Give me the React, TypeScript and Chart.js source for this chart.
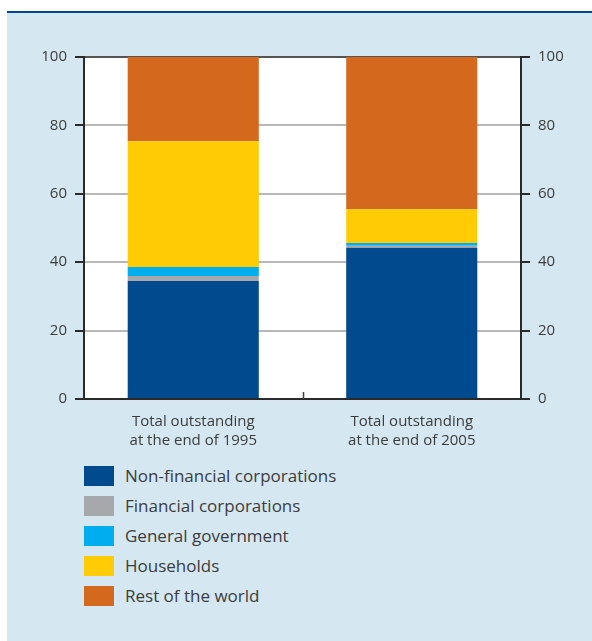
import React, { useEffect, useRef } from "react";
import { Chart, registerables } from "chart.js";

Chart.register(...registerables);

const categories = [
  ["Total outstanding", "at the end of 1995"],
  ["Total outstanding", "at the end of 2005"],
];
const seriesNames = [
  "Non-financial corporations",
  "Financial corporations",
  "General government",
  "Households",
  "Rest of the world",
];
const nonFinancial = [34.5, 44.2];
const financial = [1.5, 0.6];
const government = [2.6, 0.8];
const households = [36.8, 9.9];
const restOfWorld = [24.6, 44.5];
const seriesColors = ["#004a8d", "#a6a8ab", "#00aeef", "#ffcb05", "#d4691e"];
const yMin = 0;
const yMax = 100;
const yStep = 20;

const FONT = "'Open Sans', 'Noto Sans', sans-serif";
const TEXT = "#3c3c3c";

const decorPlugin = {
  id: "decor",
  beforeDraw(chart: any) {
    const { ctx, chartArea: a } = chart;
    ctx.save();
    ctx.fillStyle = "#ffffff";
    ctx.fillRect(a.left, a.top, a.right - a.left, a.bottom - a.top);
    ctx.restore();
  },
  afterDraw(chart: any) {
    const { ctx, chartArea: a } = chart;
    const xs = chart.scales.x;
    ctx.save();
    ctx.strokeStyle = "#444";
    ctx.lineWidth = 1.5;
    for (let i = 0; i < xs.ticks.length - 1; i++) {
      const px = Math.round((xs.getPixelForTick(i) + xs.getPixelForTick(i + 1)) / 2) + 0.5;
      ctx.beginPath();
      ctx.moveTo(px, a.bottom);
      ctx.lineTo(px, a.bottom - 7);
      ctx.stroke();
    }
    ctx.restore();
  },
};

export default function App() {
  const ref = useRef<HTMLCanvasElement | null>(null);

  useEffect(() => {
    if (!ref.current) return;
    const values = [nonFinancial, financial, government, households, restOfWorld];
    const tickFont = { family: FONT, size: 15 };
    const chart = new Chart(ref.current, {
      type: "bar",
      data: {
        labels: categories,
        datasets: values.map((v, i) => ({
          label: seriesNames[i],
          data: v,
          backgroundColor: seriesColors[i],
          borderWidth: 0,
          barPercentage: 0.6,
          categoryPercentage: 1,
        })),
      },
      options: {
        animation: false,
        responsive: false,
        devicePixelRatio: 1,
        layout: { padding: { top: 57, left: 0, right: 0, bottom: 0 } },
        plugins: { legend: { display: false }, tooltip: { enabled: false } },
        scales: {
          x: {
            stacked: true,
            grid: { display: false, drawTicks: false },
            border: { display: true, color: "#2a2a2a", width: 2 },
            ticks: { color: TEXT, font: { ...tickFont, lineHeight: 1.27 }, padding: 13, maxRotation: 0 },
            afterFit: (s: any) => {
              s.height = 61;
            },
          },
          y: {
            stacked: true,
            position: "left",
            min: yMin,
            max: yMax,
            ticks: { stepSize: yStep, color: TEXT, font: tickFont, padding: 8 },
            grid: {
              color: (c: any) => (c.tick && c.tick.value === yMax ? "#555" : "#b8b8b8"),
              lineWidth: 2,
              tickColor: "#2a2a2a",
              tickLength: 9,
            },
            border: { display: true, color: "#2a2a2a", width: 2 },
            afterFit: (s: any) => {
              s.width = 84;
            },
          },
          y2: {
            position: "right",
            min: yMin,
            max: yMax,
            ticks: { stepSize: yStep, color: TEXT, font: tickFont, padding: 8 },
            grid: { drawOnChartArea: false, tickColor: "#2a2a2a", tickLength: 9, lineWidth: 2 },
            border: { display: true, color: "#2a2a2a", width: 2 },
            afterFit: (s: any) => {
              s.width = 71;
            },
          },
        },
      },
      plugins: [decorPlugin],
    });
    return () => chart.destroy();
  }, []);

  return (
    <div style={{ position: "absolute", left: 0, top: 0, width: 592, height: 641, overflow: "hidden" }}>
      <div
        style={{
          position: "absolute",
          left: 7,
          top: 11,
          width: 585,
          height: 628,
          background: "#d5e7f1",
          borderTop: "2px solid #004a8d",
        }}
      />
      <canvas
        ref={ref}
        width={592}
        height={460}
        style={{ position: "absolute", left: 0, top: 0, width: 592, height: 460 }}
      />
      <div style={{ position: "absolute", left: 84, top: 466, fontFamily: FONT, fontSize: 17, color: TEXT }}>
        {seriesNames.map((n, i) => (
          <div key={n} style={{ display: "flex", alignItems: "center", height: 20, marginBottom: 10 }}>
            <span style={{ width: 30, height: 20, background: seriesColors[i], display: "inline-block", marginRight: 11 }} />
            <span style={{ lineHeight: "20px" }}>{n}</span>
          </div>
        ))}
      </div>
    </div>
  );
}
